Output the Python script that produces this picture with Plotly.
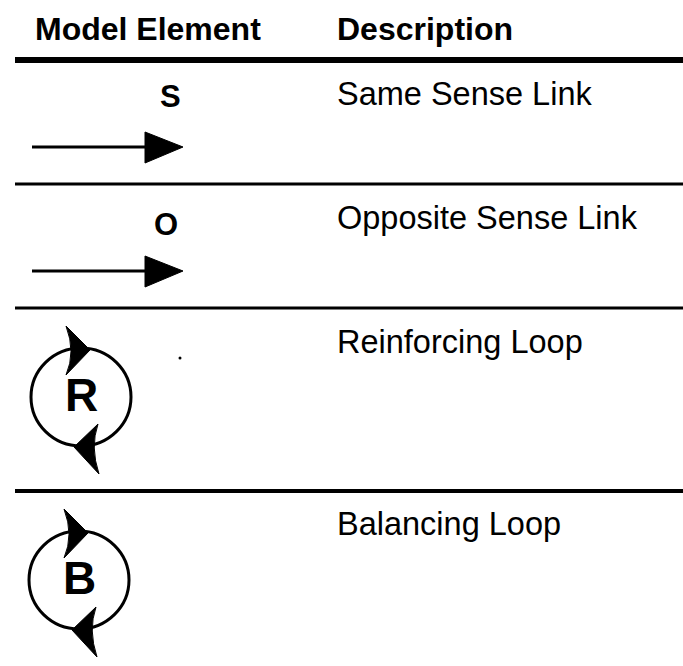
import plotly.graph_objects as go

# ---- content ----
headers = ["Model Element", "Description"]
element_labels = ["S", "O", "R", "B"]
element_kinds = ["link", "link", "loop", "loop"]
descriptions = ["Same Sense Link", "Opposite Sense Link", "Reinforcing Loop", "Balancing Loop"]

# ---- layout (pixel space) ----
W, H = 683, 666
header_x = [33, 335]
header_y = 29
desc_x = 335
desc_y = [94, 218, 342, 524]
label_x = [170, 166]
label_y = [96, 224]
arrow_y = [147, 271]
loop_center = [(81, 397), (79, 580)]
loop_r = (50, 49)
rule_y = [60, 184, 308, 491]
rule_w = [6, 3, 3, 4]

FONT = "Liberation Sans, Arial, Helvetica, sans-serif"
INK = "black"

fig = go.Figure()
fig.add_trace(go.Scatter(x=[180], y=[358], mode="markers",
                         marker=dict(size=3, color=INK), hoverinfo="skip", showlegend=False))

shapes = []
annotations = []

# header
for t, x in zip(headers, header_x):
    annotations.append(dict(x=x, y=header_y, text=f"<b>{t}</b>", xanchor="left", yanchor="middle",
                            showarrow=False, font=dict(family=FONT, size=32, color=INK)))

# rules
for y, w in zip(rule_y, rule_w):
    shapes.append(dict(type="line", x0=15, x1=W, y0=y, y1=y, line=dict(color=INK, width=w)))

# descriptions
for t, y in zip(descriptions, desc_y):
    annotations.append(dict(x=desc_x, y=y, text=t, xanchor="left", yanchor="middle",
                            showarrow=False, font=dict(family=FONT, size=32.5, color=INK)))

li = 0
lo = 0
for lab, kind in zip(element_labels, element_kinds):
    if kind == "link":
        annotations.append(dict(x=label_x[li], y=label_y[li], text=f"<b>{lab}</b>", xanchor="center",
                                yanchor="middle", showarrow=False,
                                font=dict(family=FONT, size=31, color=INK)))
        ay = arrow_y[li]
        shapes.append(dict(type="line", x0=32, x1=148, y0=ay, y1=ay, line=dict(color=INK, width=3)))
        shapes.append(dict(type="path",
                           path=f"M 145 {ay-15} L 183 {ay} L 145 {ay+16} Z",
                           fillcolor=INK, line=dict(color=INK, width=1)))
        li += 1
    else:
        cx, cy = loop_center[lo]
        rx, ry = loop_r
        shapes.append(dict(type="circle", x0=cx - rx, x1=cx + rx, y0=cy - ry, y1=cy + ry,
                           line=dict(color=INK, width=3)))
        annotations.append(dict(x=cx, y=cy - 2, text=f"<b>{lab}</b>", xanchor="center",
                                yanchor="middle", showarrow=False,
                                font=dict(family=FONT, size=46, color=INK)))
        # top arrowhead (pointing right)
        shapes.append(dict(type="path",
                           path=(f"M {cx-15} {cy-71} L {cx+9} {cy-47} L {cx-15} {cy-22} "
                                 f"Q {cx-5} {cy-45} {cx-15} {cy-71} Z"),
                           fillcolor=INK, line=dict(color=INK, width=1)))
        # bottom arrowhead (pointing left)
        shapes.append(dict(type="path",
                           path=(f"M {cx+17} {cy+27} L {cx-7} {cy+50} L {cx+18} {cy+77} "
                                 f"Q {cx+9} {cy+50} {cx+17} {cy+27} Z"),
                           fillcolor=INK, line=dict(color=INK, width=1)))
        lo += 1

fig.update_layout(
    width=W, height=H, margin=dict(l=0, r=0, t=0, b=0),
    paper_bgcolor="white", plot_bgcolor="white",
    xaxis=dict(range=[0, W], visible=False, fixedrange=True),
    yaxis=dict(range=[H, 0], visible=False, fixedrange=True),
    shapes=shapes, annotations=annotations, showlegend=False,
)
fig.write_html("out.html", config={"displayModeBar": False},
               post_script="document.body.style.margin='0';document.body.style.overflow='hidden';")
